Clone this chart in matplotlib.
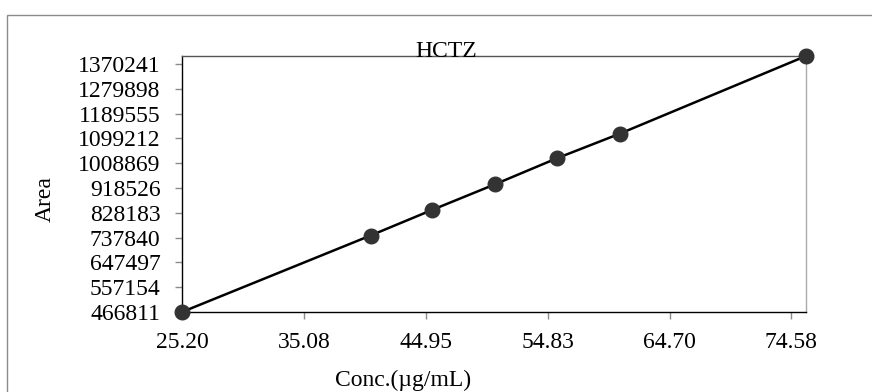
import matplotlib
matplotlib.use("Agg")
import matplotlib.pyplot as plt
from matplotlib.patches import Rectangle

# Calibration data (HCTZ)
conc = [25.20, 40.48, 45.48, 50.58, 55.58, 60.68, 75.76]
area = [466811, 745500, 839000, 932500, 1027000, 1116700, 1399600]

x_ticks = [25.20, 35.08, 44.95, 54.83, 64.70, 74.58]
y_ticks = [466811, 557154, 647497, 737840, 828183, 918526,
           1008869, 1099212, 1189555, 1279898, 1370241]

plt.rcParams['font.family'] = ['Liberation Serif', 'DejaVu Serif']

fig = plt.figure(figsize=(8.72, 3.92), dpi=100)

# outer chart border (runs off the right and bottom edge)
fig.patches.append(Rectangle((7 / 872, -0.05), 1.0, (392 - 15) / 392 + 0.05,
                             transform=fig.transFigure, fill=False,
                             edgecolor='#8c8c8c', linewidth=1.0))

ax = fig.add_axes([182 / 872, 80 / 392, 624 / 872, 256 / 392])
ax.plot(conc, area, color='black', linewidth=1.8, zorder=3, clip_on=False)
ax.plot(conc, area, linestyle='none', marker='o', markersize=10.5,
        color='#333333', zorder=4, clip_on=False)

ax.set_xlim(conc[0], conc[-1])
ax.set_ylim(area[0], area[-1])
ax.set_xticks(x_ticks)
ax.set_xticklabels([f"{v:.2f}" for v in x_ticks])
ax.set_yticks(y_ticks)
ax.set_yticklabels([str(v) for v in y_ticks])

ax.tick_params(axis='both', direction='out', length=5, width=1,
               color='#8c8c8c', labelsize=17)
ax.tick_params(axis='y', pad=10.5)
ax.tick_params(axis='x', pad=9.5)

ax.spines['left'].set_color('black')
ax.spines['bottom'].set_color('black')
ax.spines['top'].set_color('#555555')
ax.spines['right'].set_color('#aaaaaa')
for s in ax.spines.values():
    s.set_linewidth(1.0)

fig.text(446 / 872, 1 - 57 / 392, "HCTZ", ha='center', va='baseline', fontsize=17)
fig.text(45 / 872, 1 - 199 / 392, "Area", ha='center', va='center',
         rotation=90, fontsize=17)
fig.text(403 / 872, 1 - 380 / 392, "Conc.(µg/mL)", ha='center', va='center',
         fontsize=17)

fig.savefig("out.png", dpi=100)
